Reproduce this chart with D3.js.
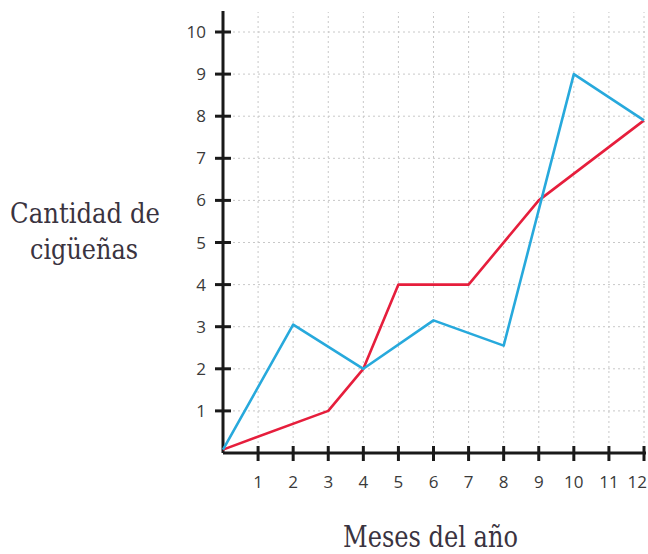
<!DOCTYPE html>
<html>
<head>
<meta charset="utf-8">
<script src="https://cdn.jsdelivr.net/npm/d3@7"></script>
<style>
  body { margin: 0; background: #fff; }
  .tick-label { font-family: "Open Sans", sans-serif; font-size: 17px; fill: #3a3a3a; }
  .title { font-family: "DejaVu Serif", serif; fill: #3a3340; }
</style>
</head>
<body>
<script>
// values
var months = [1, 2, 3, 4, 5, 6, 7, 8, 9, 10, 11, 12];
var yTicks = [1, 2, 3, 4, 5, 6, 7, 8, 9, 10];

var blueMonths = [0, 2, 4, 6, 8, 10, 12];
var blueValues = [0.08, 3.05, 2, 3.15, 2.55, 9, 7.9];

var redMonths = [0, 3, 4, 5, 7, 9, 12];
var redValues = [0.08, 1, 2, 4, 4, 6, 7.9];

var width = 648, height = 554;

var svg = d3.select("body").append("svg")
    .attr("width", width)
    .attr("height", height);

var x = d3.scaleLinear().domain([0, 12]).range([223, 644]);
var y = d3.scaleLinear().domain([0, 10]).range([453, 32]);

// dotted grid
svg.selectAll(".vgrid").data(months).enter().append("line")
    .attr("x1", d => x(d)).attr("x2", d => x(d))
    .attr("y1", y(0)).attr("y2", 12)
    .attr("stroke", "#c8c8c8").attr("stroke-width", 1)
    .attr("stroke-dasharray", "2,3");

svg.selectAll(".hgrid").data(yTicks).enter().append("line")
    .attr("x1", x(0)).attr("x2", 648)
    .attr("y1", d => y(d)).attr("y2", d => y(d))
    .attr("stroke", "#c8c8c8").attr("stroke-width", 1)
    .attr("stroke-dasharray", "2,3");

// axes
svg.append("line")
    .attr("x1", x(0)).attr("x2", x(0))
    .attr("y1", 11).attr("y2", y(0))
    .attr("stroke", "#1a1a1a").attr("stroke-width", 3);
svg.append("line")
    .attr("x1", x(0)).attr("x2", x(12) + 2)
    .attr("y1", y(0)).attr("y2", y(0))
    .attr("stroke", "#1a1a1a").attr("stroke-width", 3);

svg.selectAll(".ytick").data(yTicks).enter().append("line")
    .attr("x1", x(0) - 8).attr("x2", x(0) + 8)
    .attr("y1", d => y(d)).attr("y2", d => y(d))
    .attr("stroke", "#1a1a1a").attr("stroke-width", 3);

svg.selectAll(".xtick").data(months).enter().append("line")
    .attr("x1", d => x(d)).attr("x2", d => x(d))
    .attr("y1", y(0) - 7).attr("y2", y(0) + 8)
    .attr("stroke", "#1a1a1a").attr("stroke-width", 3);

svg.selectAll(".ylabel").data(yTicks).enter().append("text")
    .attr("class", "tick-label")
    .attr("x", x(0) - 17)
    .attr("y", d => y(d) + 6)
    .attr("text-anchor", "end")
    .text(d => d);

// last label would run off the edge, so it is pinned to the right side
svg.selectAll(".xlabel").data(months).enter().append("text")
    .attr("class", "tick-label")
    .attr("x", d => d === 12 ? 647 : x(d))
    .attr("y", 488)
    .attr("text-anchor", d => d === 12 ? "end" : "middle")
    .text(d => d);

// lines
var line = d3.line()
    .x(d => x(d[0]))
    .y(d => y(d[1]));

svg.append("path")
    .datum(d3.zip(redMonths, redValues))
    .attr("d", line)
    .attr("fill", "none")
    .attr("stroke", "#e61e3c")
    .attr("stroke-width", 2.6)
    .attr("stroke-linejoin", "round");

svg.append("path")
    .datum(d3.zip(blueMonths, blueValues))
    .attr("d", line)
    .attr("fill", "none")
    .attr("stroke", "#27a9dc")
    .attr("stroke-width", 2.6)
    .attr("stroke-linejoin", "round");

// titles
svg.append("text").attr("class", "title")
    .attr("x", 10).attr("y", 223)
    .attr("font-size", 28)
    .attr("textLength", 150).attr("lengthAdjust", "spacingAndGlyphs")
    .text("Cantidad de");
svg.append("text").attr("class", "title")
    .attr("x", 30).attr("y", 259)
    .attr("font-size", 28)
    .attr("textLength", 108).attr("lengthAdjust", "spacingAndGlyphs")
    .text("cigüeñas");
svg.append("text").attr("class", "title")
    .attr("x", 343).attr("y", 547)
    .attr("font-size", 30)
    .attr("textLength", 175).attr("lengthAdjust", "spacingAndGlyphs")
    .text("Meses del año");
</script>
</body>
</html>
